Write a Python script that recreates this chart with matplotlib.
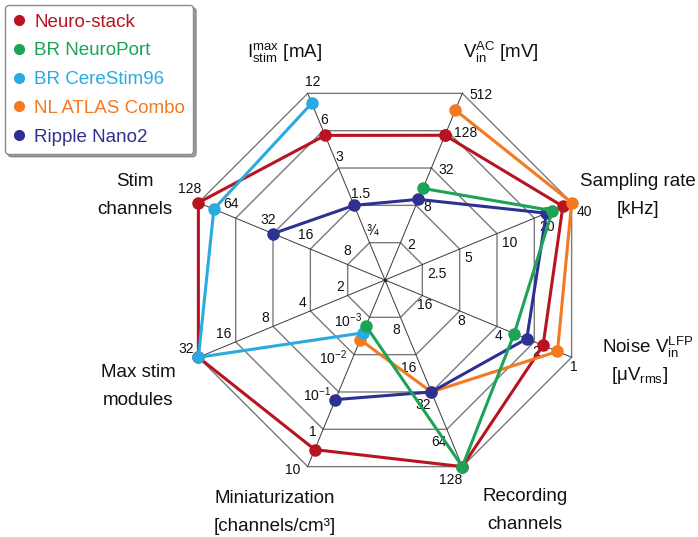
"""
Radar chart comparing Neuro-stack with commercial neural recording/stim systems.
Every axis has its own log scale; five octagonal rings mark the tick values.
"""

import numpy as np
import matplotlib
matplotlib.use("Agg")
import matplotlib.pyplot as plt
from matplotlib.lines import Line2D

plt.rcParams["font.family"] = ["Liberation Sans", "DejaVu Sans"]
plt.rcParams["mathtext.fontset"] = "custom"
plt.rcParams["mathtext.rm"] = "Liberation Sans"
plt.rcParams["mathtext.it"] = "Liberation Sans:italic"

# ── Axes (counter-clockwise, starting at V_in AC) ──
axis_lines = [
    [r"$\mathregular{V_{in}^{AC}}$ [mV]"],
    [r"$\mathregular{I_{stim}^{max}}$ [mA]"],
    ["Stim", "channels"],
    ["Max stim", "modules"],
    ["Miniaturization", "[channels/cm³]"],
    ["Recording", "channels"],
    [r"Noise $\mathregular{V_{in}^{LFP}}$", r"[μ$\mathregular{V_{rms}}$]"],
    ["Sampling rate", "[kHz]"],
]

tick_values = [
    [2, 8, 32, 128, 512],
    [0.75, 1.5, 3, 6, 12],
    [8, 16, 32, 64, 128],
    [2, 4, 8, 16, 32],
    [1e-3, 1e-2, 1e-1, 1, 10],
    [8, 16, 32, 64, 128],
    [16, 8, 4, 2, 1],
    [2.5, 5, 10, 20, 40],
]

tick_labels = [
    ["2", "8", "32", "128", "512"],
    ["¾", "1.5", "3", "6", "12"],
    ["8", "16", "32", "64", "128"],
    ["2", "4", "8", "16", "32"],
    [r"$\mathregular{10^{-3}}$", r"$\mathregular{10^{-2}}$",
     r"$\mathregular{10^{-1}}$", "1", "10"],
    ["8", "16", "32", "64", "128"],
    ["16", "8", "4", "2", "1"],
    ["2.5", "5", "10", "20", "40"],
]

# ── Series (None = not reported) ──
series_names = ["Neuro-stack", "BR NeuroPort", "BR CereStim96",
                "NL ATLAS Combo", "Ripple Nano2"]
neuro_stack   = [108, 5.5, 128, 32, 3.5, 128, 1.7, 34]
br_neuroport  = [15, None, None, None, 0.0017, 128, 2.9, 28]
br_cerestim96 = [None, 10, 96, 32, 0.0026, None, None, None]
nl_atlas      = [275, None, None, None, 0.004, 32, 1.3, 40]
ripple_nano2  = [10, 1.5, 32, None, 0.16, 32, 2.3, 25]
series_values = [neuro_stack, br_neuroport, br_cerestim96, nl_atlas, ripple_nano2]
series_colors = ["#B8141F", "#1BA358", "#29AAE1", "#F47920", "#2E3192"]
series_z      = [3, 7, 6, 4, 5]

N = len(axis_lines)
angles = np.deg2rad(67.5 + 45 * np.arange(N))
n_rings = 5


def level(value, ticks):
    """Position on the axis: ring 1 at the first tick, one ring per tick step."""
    return 1 + np.log(value / ticks[0]) / np.log(ticks[1] / ticks[0])


def to_xy(r, a):
    return r * np.cos(a), r * np.sin(a)


# ── Figure: one unit = one ring, center at pixel (385, 280) ──
W, H = 698, 537
px = 40.4
fig = plt.figure(figsize=(W / 100, H / 100), dpi=100)
ax = fig.add_axes([0, 0, 1, 1])
ax.set_xlim(-385 / px, (W - 385) / px)
ax.set_ylim(-(H - 280) / px, 280 / px)
ax.set_aspect("equal")
ax.axis("off")

# Rings and spokes
closed = np.append(angles, angles[0])
for k in range(1, n_rings + 1):
    xs, ys = to_xy(k, closed)
    ax.plot(xs, ys, color="#7a7a7a", lw=1.0, zorder=1)
for a in angles:
    xs, ys = to_xy(np.array([0, n_rings]), a)
    ax.plot(xs, ys, color="#3a3a3a", lw=0.7, zorder=1)
ax.plot(0, 0, "o", color="#222222", ms=1.5, zorder=1)

# Tick labels (offset in pixels from each ring vertex)
tick_offsets = [(7, -2), (-3, 11), (3, 14), (-4, 8), (-7, -3), (0, -13), (2, -10), (5, -9)]
tick_ha = ["left", "left", "right", "right", "right", "right", "center", "left"]
for i in range(N):
    for k in range(n_rings):
        x, y = to_xy(k + 1, angles[i])
        ax.annotate(tick_labels[i][k], xy=(x, y), xytext=tick_offsets[i],
                    textcoords="offset pixels", ha=tick_ha[i], va="center",
                    fontsize=10, color="#111111", zorder=2)

# Axis titles (data units)
title_pos = [(2.88, 5.64), (-2.48, 5.64), (-6.19, 2.45), (-6.11, -2.28),
             (-2.72, -5.40), (3.47, -5.35), (6.49, -1.66), (6.26, 2.45)]
line_gap = 0.7
for i in range(N):
    x0, y0 = title_pos[i]
    for j, txt in enumerate(axis_lines[i]):
        dx = -0.18 if (i == 6 and j == 1) else 0
        ax.text(x0 + dx, y0 - j * line_gap, txt, ha="center", va="center",
                fontsize=13.5, color="#111111")

# Data
for name, vals, col, z in zip(series_names, series_values, series_colors, series_z):
    present = [v is not None for v in vals]
    if all(present):
        order = list(range(N)) + [0]
    else:
        start = next(i for i in range(N) if present[i] and not present[i - 1])
        order = []
        i = start
        while present[i % N] and len(order) < N:
            order.append(i % N)
            i += 1
    r = [level(vals[i], tick_values[i]) for i in order]
    a = [angles[i] for i in order]
    xs, ys = to_xy(np.array(r), np.array(a))
    ax.plot(xs, ys, "-o", color=col, lw=2.2, ms=8, zorder=z)

# Legend
handles = [Line2D([], [], ls="none", marker="o", color=c, ms=7) for c in series_colors]
leg = fig.legend(handles, series_names, loc="upper left",
                 bbox_to_anchor=(5 / W, 1 - 5 / H), borderaxespad=0,
                 fontsize=13.5, labelcolor=series_colors, handlelength=0.6,
                 handletextpad=0.5, labelspacing=0.62, borderpad=0.45,
                 fancybox=True, shadow=True, framealpha=1, edgecolor="#8a8a8a")

plt.savefig("out.png", dpi=100)
plt.close()
